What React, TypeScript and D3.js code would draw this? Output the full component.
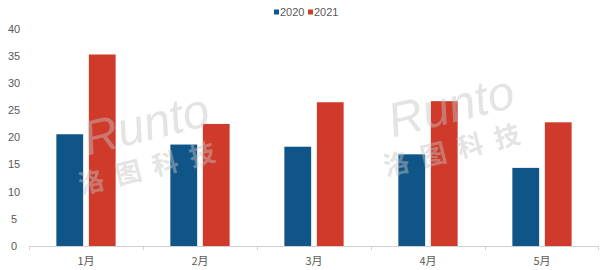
import React from "react";
import * as d3 from "d3";

const categories = ["1月", "2月", "3月", "4月", "5月"];
const series2020 = [20.6, 18.7, 18.3, 16.9, 14.4];
const series2021 = [35.3, 22.5, 26.5, 26.7, 22.8];
const seriesNames = ["2020", "2021"];
const yTicks = [0, 5, 10, 15, 20, 25, 30, 35, 40];

const W = 600;
const H = 270;
const colors = ["#0f5587", "#d03a2a"];

export default function App() {
  const margin = { left: 29, right: 1, top: 29, bottom: 24 };
  const x = d3
    .scaleBand<string>()
    .domain(categories)
    .range([margin.left, W - margin.right])
    .paddingInner(0)
    .paddingOuter(0);
  const y = d3.scaleLinear().domain([0, 40]).range([H - margin.bottom, margin.top]);
  const bw = x.bandwidth();
  const barW = bw * 0.235;
  const gap = bw * 0.05;
  const data = [series2020, series2021];
  const font = "Liberation Sans, Arial, sans-serif";

  return (
    <svg
      width={W}
      height={H}
      style={{ position: "absolute", left: 0, top: 0, background: "#fff" }}
      fontFamily={font}
    >
      {/* y tick labels */}
      {yTicks.map((t) => (
        <text key={t} x={14} y={y(t)} dy="0.35em" fontSize={11} fill="#595959" textAnchor="middle">
          {t}
        </text>
      ))}
      {/* bars */}
      {categories.map((c, i) =>
        data.map((s, k) => {
          const center = (x(c) as number) + bw / 2;
          const x0 = k === 0 ? center - gap / 2 - barW : center + gap / 2;
          return (
            <rect key={c + k} x={x0} y={y(s[i])} width={barW} height={y(0) - y(s[i])} fill={colors[k]} />
          );
        })
      )}
      {/* x axis */}
      <line x1={margin.left} x2={W - margin.right} y1={y(0) + 0.5} y2={y(0) + 0.5} stroke="#d0d0d0" />
      {categories.map((c) => (
        <line key={c} x1={(x(c) as number) + 0.5} x2={(x(c) as number) + 0.5} y1={y(0)} y2={y(0) + 4} stroke="#d0d0d0" />
      ))}
      <line x1={W - margin.right - 0.5} x2={W - margin.right - 0.5} y1={y(0)} y2={y(0) + 4} stroke="#d0d0d0" />
      {categories.map((c) => (
        <text key={c} x={(x(c) as number) + bw / 2} y={261} dy="0.35em" fontSize={11} fill="#595959" textAnchor="middle"
          fontFamily="Noto Sans CJK SC, Liberation Sans, sans-serif">
          {c}
        </text>
      ))}
      {/* legend */}
      {seriesNames.map((n, k) => (
        <g key={n} transform={`translate(${274 + k * 34},12)`}>
          <rect x={0} y={-2.5} width={5} height={5} fill={colors[k]} />
          <text x={6} y={0} dy="0.35em" fontSize={11} fill="#595959">{n}</text>
        </g>
      ))}
      {/* watermark */}
      {[ [150, 140], [455, 122] ].map(([cx, cy], i) => (
        <g key={i} transform={`translate(${cx},${cy}) rotate(-14)`} opacity={0.45} fill="#c4c4c4">
          <text x={0} y={0} fontSize={48} fontStyle="italic" textAnchor="middle">Runto</text>
          <text x={-4} y={36} fontSize={26} fontWeight="bold" textAnchor="middle" letterSpacing={12}
            fontFamily="Noto Sans CJK SC">洛图科技</text>
        </g>
      ))}
    </svg>
  );
}
